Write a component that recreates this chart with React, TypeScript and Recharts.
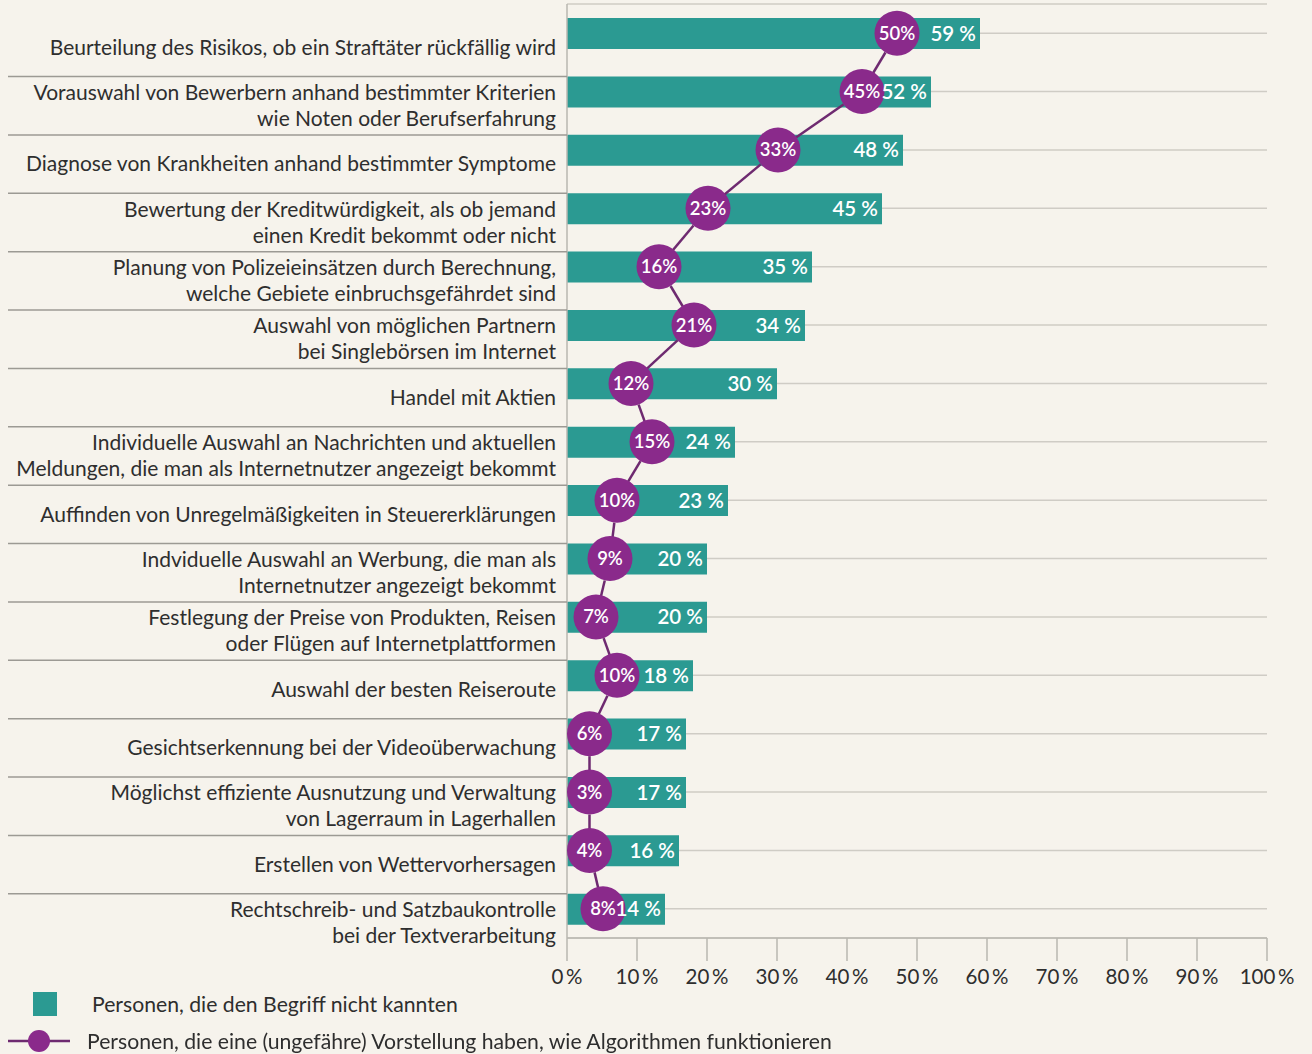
import React from "react";
import { ComposedChart, Bar, Line, XAxis, YAxis, CartesianGrid, LabelList } from "recharts";

// Kategorien (mehrzeilige Beschriftung)
const categories: string[][] = [
  ["Beurteilung des Risikos, ob ein Straftäter rückfällig wird"],
  ["Vorauswahl von Bewerbern anhand bestimmter Kriterien", "wie Noten oder Berufserfahrung"],
  ["Diagnose von Krankheiten anhand bestimmter Symptome"],
  ["Bewertung der Kreditwürdigkeit, als ob jemand", "einen Kredit bekommt oder nicht"],
  ["Planung von Polizeieinsätzen durch Berechnung,", "welche Gebiete einbruchsgefährdet sind"],
  ["Auswahl von möglichen Partnern", "bei Singlebörsen im Internet"],
  ["Handel mit Aktien"],
  ["Individuelle Auswahl an Nachrichten und aktuellen", "Meldungen, die man als Internetnutzer angezeigt bekommt"],
  ["Auffinden von Unregelmäßigkeiten in Steuererklärungen"],
  ["Indviduelle Auswahl an Werbung, die man als", "Internetnutzer angezeigt bekommt"],
  ["Festlegung der Preise von Produkten, Reisen", "oder Flügen auf Internetplattformen"],
  ["Auswahl der besten Reiseroute"],
  ["Gesichtserkennung bei der Videoüberwachung"],
  ["Möglichst effiziente Ausnutzung und Verwaltung", "von Lagerraum in Lagerhallen"],
  ["Erstellen von Wettervorhersagen"],
  ["Rechtschreib- und Satzbaukontrolle", "bei der Textverarbeitung"],
];

const notKnown = [59, 52, 48, 45, 35, 34, 30, 24, 23, 20, 20, 18, 17, 17, 16, 14];
const understand = [50, 45, 33, 23, 16, 21, 12, 15, 10, 9, 7, 10, 6, 3, 4, 8];
const xTicks = [0, 10, 20, 30, 40, 50, 60, 70, 80, 90, 100];
const seriesNames = [
  "Personen, die den Begriff nicht kannten",
  "Personen, die eine (ungefähre) Vorstellung haben, wie Algorithmen funktionieren",
];

const TEAL = "#2b9a92";
const PURPLE = "#8a2a8b";
const LINE = "#6e2a70";
const TEXT = "#2e2e2e";
const BG = "#f6f3ec";
const FONT = "Lato, 'Open Sans', sans-serif";

const Y_WIDTH = 567;
const BUBBLE_R = 22.5;
const BUBBLE_SHIFT = 20;

const data = categories.map((lines, i) => ({
  name: lines.join(" "),
  notKnown: notKnown[i],
  understand: understand[i],
}));
const linesByName: Record<string, string[]> = {};
categories.forEach((l) => (linesByName[l.join(" ")] = l));

function CategoryTick(props: any) {
  const { x, y, payload, index } = props;
  const lines = linesByName[payload.value] || [payload.value];
  const mid = y + 14;
  const start = mid - ((lines.length - 1) * 26) / 2;
  return (
    <g>
      {index > 0 && <line x1={8} x2={Y_WIDTH} y1={y - 15} y2={y - 15} stroke="#9c9a94" strokeWidth={1.5} />}
      <text x={x - 3} y={start} textAnchor="end" fontSize={21} fill={TEXT} fontFamily={FONT}>
        {lines.map((l, i) => (
          <tspan key={i} x={x - 3} y={start + i * 26} dy="0.35em">
            {l}
          </tspan>
        ))}
      </text>
    </g>
  );
}

function BarValue(props: any) {
  const { x, y, width, height, value } = props;
  return (
    <text
      x={x + width - 4}
      y={y + height / 2}
      dy="0.35em"
      textAnchor="end"
      fontSize={20.5}
      fontWeight={600}
      fill="#ffffff"
      fontFamily={FONT}
    >
      {value} %
    </text>
  );
}

const place = (x: number) => Math.max(x - BUBBLE_SHIFT, Y_WIDTH + BUBBLE_R);

function Bubble(props: any) {
  const { cx, cy, index, points, value } = props;
  const bx = place(cx);
  let seg = null;
  if (points && index > 0) {
    const prev = points[index - 1];
    const px = place(prev.x);
    const py = prev.y;
    const dx = bx - px;
    const dy = cy - py;
    const len = Math.hypot(dx, dy) || 1;
    seg = (
      <line
        x1={px + (dx / len) * BUBBLE_R}
        y1={py + (dy / len) * BUBBLE_R}
        x2={bx}
        y2={cy}
        stroke={LINE}
        strokeWidth={2.5}
      />
    );
  }
  return (
    <g key={`bubble-${index}`}>
      {seg}
      <circle cx={bx} cy={cy} r={BUBBLE_R} fill={PURPLE} />
      <text x={bx} y={cy} dy="0.35em" textAnchor="middle" fontSize={18.5} fontWeight={600} fill="#ffffff" fontFamily={FONT}>
        {value}%
      </text>
    </g>
  );
}

export default function App() {
  return (
    <div style={{ position: "fixed", left: 0, top: 0, width: 1312, height: 1054, background: BG, fontFamily: FONT }}>
      <ComposedChart
        layout="vertical"
        width={1312}
        height={1054}
        data={data}
        margin={{ top: 4, right: 45, bottom: 66, left: 0 }}
      >
        <CartesianGrid vertical={false} stroke="#cfccc5" strokeWidth={1.5} />
        <XAxis
          type="number"
          domain={[0, 100]}
          ticks={xTicks}
          height={50}
          tickSize={23}
          tickMargin={8}
          tickFormatter={(v: number) => `${v}\u2009%`}
          tick={{ fill: TEXT, fontSize: 20.5, fontFamily: FONT }}
          axisLine={{ stroke: "#b9b7b0", strokeWidth: 1.5 }}
          tickLine={{ stroke: "#b9b7b0", strokeWidth: 1.5 }}
        />
        <YAxis
          type="category"
          dataKey="name"
          width={Y_WIDTH}
          interval={0}
          tickLine={false}
          axisLine={{ stroke: "#b9b7b0", strokeWidth: 1.5 }}
          tick={<CategoryTick />}
        />
        <Bar dataKey="notKnown" name={seriesNames[0]} fill={TEAL} barSize={31} isAnimationActive={false}>
          <LabelList dataKey="notKnown" content={<BarValue />} />
        </Bar>
        <Line
          dataKey="understand"
          name={seriesNames[1]}
          stroke="none"
          dot={(p: any) => <Bubble {...p} key={`b-${p.index}`} />}
          activeDot={false}
          isAnimationActive={false}
        />
      </ComposedChart>

      {/* Legende */}
      <div style={{ position: "absolute", left: 33, top: 992, width: 24, height: 24, background: TEAL }} />
      <div style={{ position: "absolute", left: 92, top: 990, fontSize: 21.2, lineHeight: "28px", color: TEXT }}>
        {seriesNames[0]}
      </div>
      <svg style={{ position: "absolute", left: 8, top: 1029 }} width={64} height={24}>
        <line x1={0} x2={62} y1={12} y2={12} stroke={LINE} strokeWidth={2.5} />
        <circle cx={31} cy={12} r={11} fill={PURPLE} />
      </svg>
      <div style={{ position: "absolute", left: 87, top: 1027, fontSize: 21.2, lineHeight: "28px", color: TEXT }}>
        {seriesNames[1]}
      </div>
    </div>
  );
}
